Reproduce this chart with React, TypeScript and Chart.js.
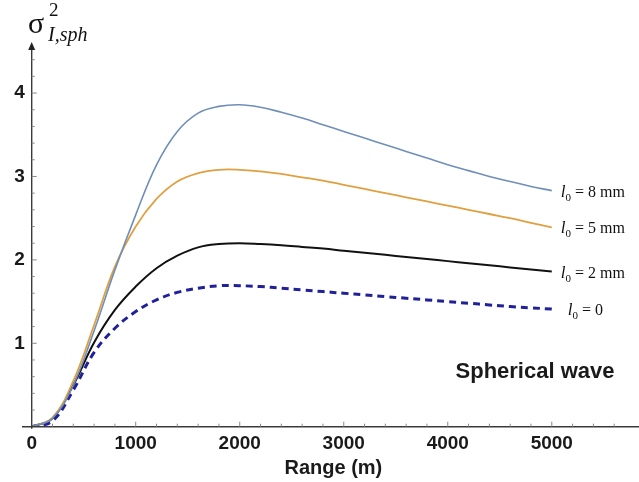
import React, { useEffect, useRef } from "react";
import { Chart, registerables } from "chart.js";

Chart.register(...registerables);

// Range (m)
const ranges = [0, 200, 400, 600, 800, 1000, 1200, 1400, 1600, 1800, 2000, 2200, 2400, 2600, 2800, 3000, 3200, 3400, 3600, 3800, 4000, 4200, 4400, 4600, 4800, 5000];
// sigma^2_I,sph for inner scale l0 values
const l0_8mm = [0, 0.1, 0.5, 1.15, 1.88, 2.54, 3.14, 3.54, 3.76, 3.84, 3.86, 3.83, 3.77, 3.7, 3.62, 3.54, 3.46, 3.38, 3.3, 3.22, 3.14, 3.07, 3.0, 2.94, 2.88, 2.83];
const l0_5mm = [0, 0.11, 0.55, 1.22, 1.92, 2.4, 2.73, 2.94, 3.04, 3.08, 3.08, 3.06, 3.03, 2.99, 2.95, 2.9, 2.85, 2.8, 2.75, 2.7, 2.65, 2.6, 2.55, 2.5, 2.445, 2.39];
const l0_2mm = [0, 0.1, 0.5, 1.01, 1.4, 1.68, 1.9, 2.05, 2.15, 2.19, 2.2, 2.19, 2.175, 2.155, 2.135, 2.11, 2.085, 2.06, 2.035, 2.01, 1.985, 1.96, 1.935, 1.91, 1.885, 1.86];
const l0_0 = [0, 0.07, 0.44, 0.89, 1.18, 1.38, 1.52, 1.61, 1.66, 1.69, 1.69, 1.68, 1.66, 1.64, 1.62, 1.6, 1.58, 1.56, 1.54, 1.52, 1.5, 1.48, 1.46, 1.44, 1.425, 1.41];

const seriesLabels = ["8 mm", "5 mm", "2 mm", "0"];
const xTickLabels = [0, 1000, 2000, 3000, 4000, 5000];
const yTickLabels = [1, 2, 3, 4];

const toPts = (ys: number[]) => ranges.map((x, i) => ({ x, y: ys[i] }));

const decor = {
  id: "decor",
  afterDraw(chart: any) {
    const { ctx, chartArea } = chart;
    const xs = chart.scales.x;
    const ys = chart.scales.y;
    const x0 = xs.getPixelForValue(0);
    const y0 = ys.getPixelForValue(0);
    ctx.save();
    // axes
    ctx.strokeStyle = "#3a3a3a";
    ctx.lineWidth = 1.4;
    ctx.beginPath();
    ctx.moveTo(22, y0);
    ctx.lineTo(639, y0);
    ctx.moveTo(x0, y0 + 2);
    ctx.lineTo(x0, chartArea.top + 5);
    ctx.stroke();
    // arrow
    ctx.fillStyle = "#222";
    ctx.beginPath();
    ctx.moveTo(x0, chartArea.top - 1);
    ctx.lineTo(x0 - 3.5, chartArea.top + 7);
    ctx.lineTo(x0 + 3.5, chartArea.top + 7);
    ctx.closePath();
    ctx.fill();
    // inward ticks
    ctx.strokeStyle = "#888";
    ctx.lineWidth = 1;
    ctx.beginPath();
    for (let v = 200; v <= 5600; v += 200) {
      const px = xs.getPixelForValue(v);
      const len = v % 1000 === 0 ? 5 : 3;
      ctx.moveTo(px, y0);
      ctx.lineTo(px, y0 - len);
    }
    for (let k = 1; k <= 22; k++) {
      const v = k * 0.2;
      const py = ys.getPixelForValue(v);
      const len = k % 5 === 0 ? 5 : 3;
      ctx.moveTo(x0, py);
      ctx.lineTo(x0 + len, py);
    }
    ctx.stroke();

    // y-axis title sigma^2_{I,sph}
    ctx.fillStyle = "#111";
    ctx.textBaseline = "alphabetic";
    ctx.textAlign = "left";
    ctx.font = '30px "Liberation Serif"';
    ctx.fillText("σ", 28, 33);
    ctx.font = '19px "Liberation Serif"';
    ctx.fillText("2", 49, 16);
    ctx.font = 'italic 20px "Liberation Serif"';
    ctx.fillText("I,sph", 48, 41);

    // series labels
    chart.data.datasets.forEach((ds: any, i: number) => {
      const meta = chart.getDatasetMeta(i);
      const last = meta.data[meta.data.length - 1];
      let x = last.x + (i === 3 ? 16 : 9);
      const y = last.y + 6;
      ctx.fillStyle = "#111";
      ctx.font = 'italic 17px "Liberation Serif"';
      ctx.fillText("l", x, y);
      x += ctx.measureText("l").width;
      ctx.font = '11px "Liberation Serif"';
      ctx.fillText("0", x, y + 4);
      x += ctx.measureText("0").width;
      ctx.font = '16px "Liberation Serif"';
      ctx.fillText(" = " + seriesLabels[i], x, y);
    });

    // annotation
    ctx.font = 'bold 22px "Liberation Sans"';
    ctx.textAlign = "center";
    ctx.fillStyle = "#1a1a1a";
    ctx.fillText("Spherical wave", 535, 378);
    ctx.restore();
  },
};

export default function App() {
  const ref = useRef<HTMLCanvasElement>(null);
  useEffect(() => {
    if (!ref.current) return;
    const chart = new Chart(ref.current, {
      type: "line",
      data: {
        datasets: [
          { data: toPts(l0_8mm), borderColor: "#6f8fb8", borderWidth: 1.6 },
          { data: toPts(l0_5mm), borderColor: "#e0a040", borderWidth: 1.8 },
          { data: toPts(l0_2mm), borderColor: "#111111", borderWidth: 2 },
          { data: toPts(l0_0), borderColor: "#20209a", borderWidth: 3, borderDash: [7, 5] },
        ],
      },
      options: {
        animation: false,
        responsive: false,
        devicePixelRatio: 1,
        layout: { padding: { top: 43, right: 4, left: 0, bottom: 0 } },
        elements: {
          point: { radius: 0 },
          line: { tension: 0.4, fill: false, capBezierPoints: true },
        },
        plugins: { legend: { display: false }, tooltip: { enabled: false } },
        scales: {
          x: {
            type: "linear",
            min: 0,
            max: 5800,
            grid: { display: false, drawTicks: false },
            border: { display: false },
            afterFit: (s: any) => { s.height = 55.3; },
            afterBuildTicks: (s: any) => { s.ticks = xTickLabels.map((v) => ({ value: v })); },
            ticks: {
              padding: 6,
              color: "#1a1a1a",
              font: { family: "Liberation Sans", weight: "bold", size: 19 },
              maxRotation: 0,
              callback: (v: any) => String(v),
            },
            title: {
              display: true,
              text: "Range (m)",
              color: "#1a1a1a",
              font: { family: "Liberation Sans", weight: "bold", size: 20 },
              padding: { top: 0, bottom: 2 },
            },
          },
          y: {
            type: "linear",
            min: 0,
            max: 4.6,
            grid: { display: false, drawTicks: false },
            border: { display: false },
            afterFit: (s: any) => { s.width = 31.7; },
            afterBuildTicks: (s: any) => { s.ticks = yTickLabels.map((v) => ({ value: v })); },
            ticks: {
              padding: 7,
              color: "#1a1a1a",
              font: { family: "Liberation Sans", weight: "bold", size: 19 },
            },
          },
        },
      },
      plugins: [decor],
    });
    return () => chart.destroy();
  }, []);
  return (
    <div style={{ position: "fixed", left: 0, top: 0, width: 639, height: 482, background: "#fff" }}>
      <canvas ref={ref} width={639} height={482} />
    </div>
  );
}
